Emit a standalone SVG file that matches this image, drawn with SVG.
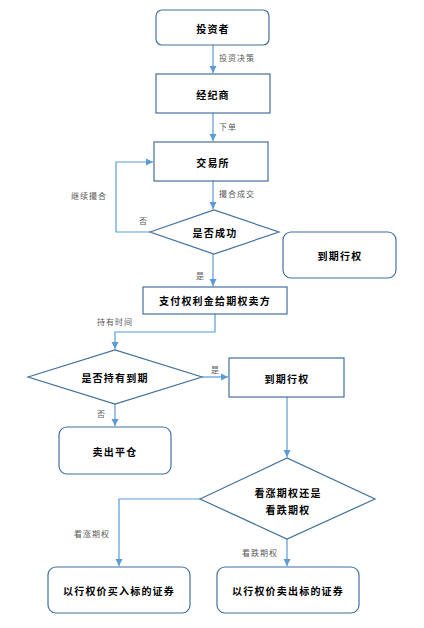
<svg xmlns="http://www.w3.org/2000/svg" width="424" height="628" viewBox="0 0 424 628">
<defs>
<marker id="ah" markerWidth="8" markerHeight="8" refX="7" refY="4" orient="auto" markerUnits="userSpaceOnUse">
<path d="M0,0.5 L7,4 L0,7.5 Z" fill="#5B9BD5"/>
</marker>
<style>
.n{fill:#fff;stroke:#41719C;stroke-width:1.2}
.t{font-family:"Noto Sans CJK SC","Noto Sans",sans-serif;font-size:10px;font-weight:bold;fill:#000;text-anchor:middle;dominant-baseline:central;letter-spacing:1.2px}
.l{font-family:"Noto Sans CJK SC","Noto Sans",sans-serif;font-size:8px;fill:#595959;dominant-baseline:central;letter-spacing:1px}
.c{fill:none;stroke:#5B9BD5;stroke-width:1.2;marker-end:url(#ah)}
</style>
</defs>
<rect width="424" height="628" fill="#fff"/>
<g id="connectors">
<path class="c" d="M213,45 V73"/>
<path class="c" d="M213,113 V141"/>
<path class="c" d="M213,181 V209"/>
<path class="c" d="M150,232 H116 V162 H153"/>
<path class="c" d="M213,254 V286"/>
<path class="c" d="M215,314 V332 H115 V349"/>
<path class="c" d="M202,377 H228"/>
<path class="c" d="M115,404 V426"/>
<path class="c" d="M287,397 V457"/>
<path class="c" d="M200,499 H119 V566"/>
<path class="c" d="M287,539 V566"/>
<text class="l" x="219" y="57">投资决策</text>
<text class="l" x="219" y="126">下单</text>
<text class="l" x="219" y="193">撮合成交</text>
<text class="l" x="71" y="195">继续撮合</text>
<text class="l" x="139" y="220">否</text>
<text class="l" x="196" y="275">是</text>
<text class="l" x="97" y="321">持有时间</text>
<text class="l" x="211" y="369">是</text>
<text class="l" x="97" y="413">否</text>
<text class="l" x="74" y="533">看涨期权</text>
<text class="l" x="242" y="552">看跌期权</text>
</g>
<g id="n1"><rect class="n" x="156" y="10" width="113" height="35" rx="6"/><text class="t" x="213" y="28">投资者</text></g>
<g id="n2"><rect class="n" x="156" y="74" width="114" height="39"/><text class="t" x="213" y="94">经纪商</text></g>
<g id="n3"><rect class="n" x="154" y="142" width="114" height="39"/><text class="t" x="213" y="162">交易所</text></g>
<g id="d1"><polygon class="n" points="150,232 214,210 279,232 214,254"/><text class="t" x="215" y="232">是否成功</text></g>
<g id="n4"><rect class="n" x="283" y="232" width="113" height="46" rx="8"/><text class="t" x="340" y="255">到期行权</text></g>
<g id="n5"><rect class="n" x="143" y="287" width="144" height="27"/><text class="t" x="215" y="300">支付权利金给期权卖方</text></g>
<g id="d2"><polygon class="n" points="28,377 115,350 202,377 115,404"/><text class="t" x="115" y="377">是否持有到期</text></g>
<g id="n6"><rect class="n" x="229" y="358" width="115" height="39"/><text class="t" x="287" y="378">到期行权</text></g>
<g id="n7"><rect class="n" x="59" y="427" width="112" height="47" rx="8"/><text class="t" x="115" y="451">卖出平仓</text></g>
<g id="d3"><polygon class="n" points="200,499 287,458 375,499 287,539"/><text class="t" x="288" y="492">看涨期权还是</text><text class="t" x="288" y="509">看跌期权</text></g>
<g id="n8"><rect class="n" x="48" y="567" width="142" height="46" rx="8"/><text class="t" x="119" y="590">以行权价买入标的证券</text></g>
<g id="n9"><rect class="n" x="217" y="567" width="142" height="46" rx="8"/><text class="t" x="288" y="590">以行权价卖出标的证券</text></g>
</svg>
